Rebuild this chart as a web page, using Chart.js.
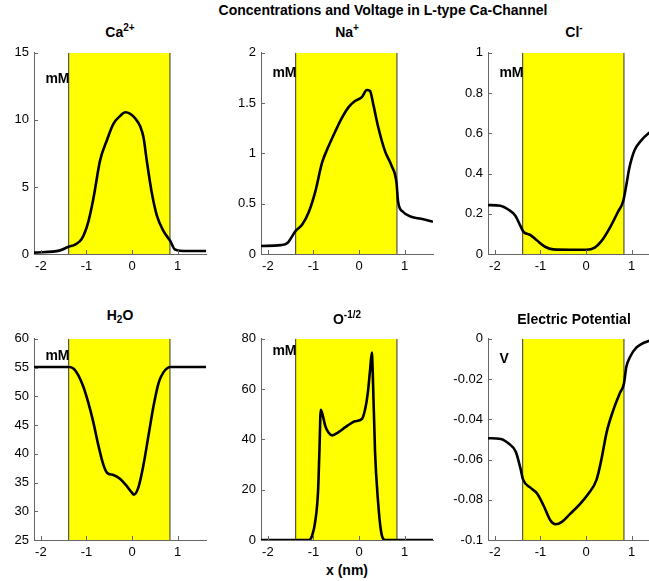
<!DOCTYPE html>
<html lang="en">
<head>
<meta charset="UTF-8">
<title>Concentrations and Voltage in L-type Ca-Channel</title>
<script src="https://cdn.jsdelivr.net/npm/chart.js"></script>
<style>
  html, body { margin: 0; padding: 0; background: #fff; overflow: hidden; }
  body { position: relative; width: 649px; height: 581px; font-family: "Liberation Sans", Arial, sans-serif; }
  .panel { position: absolute; }
  .lbl { position: absolute; font-weight: bold; font-size: 14px; line-height: 14px; white-space: nowrap; color: #000; text-align: center; }
  .lbl sup, .lbl sub { font-size: 10px; line-height: 0; }
  .lbl sup { vertical-align: 6px; }
  .lbl sub { vertical-align: -3px; }
</style>
</head>
<body>
<div class="lbl" style="left:183px; width:400px; top:3px;">Concentrations and Voltage in L-type Ca-Channel</div>
<div class="lbl" style="left:247px; width:200px; top:563px;">x (nm)</div>

<script>
// channel region (nm) and common x ticks
const channel = [-1.39, 0.83];
const xTicks = [-2, -1, 0, 1];

// Ca2+ (mM)
const caX = [-2.15, -1.58, -1.39, -1.25, -1.10, -0.96, -0.85, -0.70, -0.55, -0.41, -0.26, -0.15, -0.04, 0.07, 0.18, 0.25, 0.32, 0.43, 0.54, 0.69, 0.84, 0.94, 1.2, 1.62];
const caY = [0.1, 0.27, 0.54, 0.7, 1.14, 2.4, 4.1, 7.0, 8.5, 9.7, 10.3, 10.57, 10.45, 10.1, 9.5, 8.7, 7.0, 4.6, 2.9, 1.7, 0.95, 0.34, 0.22, 0.22];
const caTicks = [0, 5, 10, 15];

// Na+ (mM)
const naX = [-2.15, -1.72, -1.57, -1.39, -1.25, -1.10, -0.96, -0.81, -0.67, -0.52, -0.38, -0.23, -0.09, 0.06, 0.17, 0.24, 0.31, 0.42, 0.57, 0.71, 0.82, 0.855, 0.96, 1.14, 1.36, 1.62];
const naY = [0.08, 0.088, 0.11, 0.23, 0.29, 0.42, 0.62, 0.91, 1.07, 1.22, 1.35, 1.46, 1.52, 1.56, 1.63, 1.62, 1.49, 1.26, 1.02, 0.88, 0.71, 0.52, 0.42, 0.37, 0.35, 0.32];
const naTicks = [0, 0.5, 1, 1.5, 2];

// Cl- (mM)
const clX = [-2.15, -1.88, -1.70, -1.55, -1.44, -1.37, -1.22, -1.08, -0.90, -0.72, -0.35, 0.01, 0.19, 0.34, 0.52, 0.70, 0.81, 0.88, 0.95, 1.06, 1.21, 1.37, 1.62];
const clY = [0.243, 0.24, 0.22, 0.19, 0.14, 0.11, 0.094, 0.068, 0.036, 0.023, 0.021, 0.021, 0.032, 0.065, 0.13, 0.21, 0.26, 0.34, 0.43, 0.515, 0.565, 0.60, 0.635];
const clTicks = [0, 0.2, 0.4, 0.6, 0.8, 1];

// H2O (mM)
const h2oX = [-2.15, -1.39, -1.28, -1.18, -1.07, -0.96, -0.85, -0.74, -0.63, -0.55, -0.41, -0.26, -0.12, -0.01, 0.04, 0.14, 0.25, 0.36, 0.47, 0.58, 0.69, 0.84, 1.62];
const h2oY = [55.1, 55.1, 54.8, 53.7, 51.7, 48.9, 45.5, 41.5, 38.1, 36.7, 36.3, 35.6, 34.4, 33.3, 32.9, 34.2, 38.1, 43.2, 48.3, 52.3, 54.2, 55.1, 55.1];
const h2oTicks = [25, 30, 35, 40, 45, 50, 55, 60];

// O-1/2 (mM)
const oxX = [-2.15, -1.10, -1.03, -0.96, -0.90, -0.87, -0.84, -0.80, -0.74, -0.67, -0.59, -0.45, -0.30, -0.16, -0.09, 0.06, 0.13, 0.19, 0.24, 0.28, 0.30, 0.35, 0.41, 0.48, 0.57, 1.62];
const oxY = [0, 0, 1.7, 7.5, 19.2, 34.9, 51.8, 49.8, 45.3, 42.7, 41.6, 42.9, 44.9, 46.6, 47.2, 48.1, 51.8, 58.3, 67.4, 74.5, 66, 34.9, 16.6, 3.6, 0, 0];
const oxTicks = [0, 20, 40, 60, 80];

// electric potential (V)
const phiX = [-2.15, -1.87, -1.69, -1.54, -1.44, -1.38, -1.22, -1.07, -0.93, -0.78, -0.67, -0.53, -0.35, -0.13, 0.05, 0.23, 0.34, 0.45, 0.60, 0.74, 0.83, 0.88, 0.96, 1.10, 1.37, 1.62];
const phiY = [-0.0494, -0.0498, -0.0522, -0.0562, -0.0643, -0.070, -0.074, -0.077, -0.083, -0.0903, -0.0922, -0.091, -0.087, -0.082, -0.077, -0.070, -0.0595, -0.0465, -0.0352, -0.027, -0.0222, -0.0141, -0.0092, -0.0044, -0.0011, -0.0003];
const phiTicks = [-0.1, -0.08, -0.06, -0.04, -0.02, 0];

const panels = [
  { title: 'Ca<sup>2+</sup>', xs: caX, ys: caY, yTicks: caTicks, unit: 'mM', unitY: 13, col: 0, row: 0 },
  { title: 'Na<sup>+</sup>', xs: naX, ys: naY, yTicks: naTicks, unit: 'mM', unitY: 1.8, col: 1, row: 0 },
  { title: 'Cl<sup>-</sup>', xs: clX, ys: clY, yTicks: clTicks, unit: 'mM', unitY: 0.9, col: 2, row: 0 },
  { title: 'H<sub>2</sub>O', xs: h2oX, ys: h2oY, yTicks: h2oTicks, unit: 'mM', unitY: 57, col: 0, row: 1, titleLift: 4 },
  { title: 'O<sup>-1/2</sup>', xs: oxX, ys: oxY, yTicks: oxTicks, unit: 'mM', unitY: 75, col: 1, row: 1 },
  { title: 'Electric Potential', xs: phiX, ys: phiY, yTicks: phiTicks, unit: 'V', unitY: -0.01, col: 2, row: 1 }
];

// axes box geometry (px)
const colLeft = [34, 261, 488];
const rowTop = [48, 334];
const plotW = 172, plotH = 206;
const yAxisW = 40, xAxisH = 24, padTop = 8, padRight = 8;
const titleBase = [37, 323.5];

// small ticks pointing into the plot, like the axes they come from
const inwardTicks = {
  id: 'inwardTicks',
  afterDraw(chart) {
    const { ctx, chartArea: a, scales: { x, y } } = chart;
    ctx.save();
    ctx.strokeStyle = '#666';
    ctx.lineWidth = 1;
    ctx.beginPath();
    x.ticks.forEach(t => {
      const px = Math.round(x.getPixelForValue(t.value)) + 0.5;
      ctx.moveTo(px, a.bottom);
      ctx.lineTo(px, a.bottom - 4);
    });
    y.ticks.forEach(t => {
      const py = Math.round(y.getPixelForValue(t.value)) + 0.5;
      ctx.moveTo(a.left, py);
      ctx.lineTo(a.left + 4, py);
    });
    ctx.stroke();
    ctx.restore();
  }
};

// unit label placed in data coordinates
const unitLabel = {
  id: 'unitLabel',
  afterDatasetsDraw(chart, args, opts) {
    const { ctx, scales: { x, y } } = chart;
    ctx.save();
    ctx.font = 'bold 14px "Liberation Sans", Arial, sans-serif';
    ctx.fillStyle = '#000';
    ctx.textAlign = 'left';
    ctx.textBaseline = 'middle';
    ctx.fillText(opts.text, x.getPixelForValue(opts.x), y.getPixelForValue(opts.y));
    ctx.restore();
  }
};

const tickFont = { family: '"Liberation Sans", Arial, sans-serif', size: 13 };

panels.forEach(p => {
  const left = colLeft[p.col], top = rowTop[p.row];
  const yMin = p.yTicks[0], yMax = p.yTicks[p.yTicks.length - 1];

  const cv = document.createElement('canvas');
  cv.className = 'panel';
  cv.width = yAxisW + plotW + padRight;
  cv.height = padTop + plotH + xAxisH;
  cv.style.left = (left - yAxisW) + 'px';
  cv.style.top = (top - padTop) + 'px';
  document.body.appendChild(cv);

  const t = document.createElement('div');
  t.className = 'lbl';
  t.innerHTML = p.title;
  t.style.left = (left + plotW / 2 - 100) + 'px';
  t.style.width = '200px';
  t.style.top = (titleBase[p.row] - (p.titleLift || 0) - 12) + 'px';
  document.body.appendChild(t);

  new Chart(cv, {
    type: 'line',
    data: {
      datasets: [
        {
          data: p.xs.map((v, i) => ({ x: v, y: p.ys[i] })),
          borderColor: '#000', borderWidth: 2.6, pointRadius: 0,
          cubicInterpolationMode: 'monotone', fill: false, order: 0
        },
        {
          data: [{ x: channel[0], y: yMax }, { x: channel[1], y: yMax }],
          backgroundColor: '#ffff00', borderWidth: 0, pointRadius: 0,
          fill: 'start', order: 3
        },
        {
          data: [{ x: channel[0], y: yMin }, { x: channel[0], y: yMax }],
          borderColor: '#333', borderWidth: 1, pointRadius: 0, fill: false, order: 2
        },
        {
          data: [{ x: channel[1], y: yMin }, { x: channel[1], y: yMax }],
          borderColor: '#333', borderWidth: 1, pointRadius: 0, fill: false, order: 2
        }
      ]
    },
    options: {
      responsive: false,
      animation: false,
      events: [],
      layout: { padding: { top: padTop, right: padRight, left: 0, bottom: 0 } },
      plugins: {
        legend: { display: false },
        tooltip: { enabled: false },
        unitLabel: { text: p.unit, x: -1.9, y: p.unitY }
      },
      scales: {
        x: {
          type: 'linear', min: -2.15, max: 1.62,
          afterBuildTicks: s => { s.ticks = xTicks.map(v => ({ value: v })); },
          afterFit: s => { s.height = xAxisH; },
          grid: { drawOnChartArea: false, drawTicks: false },
          border: { color: '#666' },
          ticks: { color: '#000', font: tickFont, padding: 5, maxRotation: 0 }
        },
        y: {
          type: 'linear', min: yMin, max: yMax,
          afterBuildTicks: s => { s.ticks = p.yTicks.map(v => ({ value: v })); },
          afterFit: s => { s.width = yAxisW; },
          grid: { drawOnChartArea: false, drawTicks: false },
          border: { color: '#666' },
          ticks: { color: '#000', font: tickFont, padding: 5, callback: v => String(+v.toFixed(3)) }
        }
      }
    },
    plugins: [inwardTicks, unitLabel]
  });
});
</script>
</body>
</html>
